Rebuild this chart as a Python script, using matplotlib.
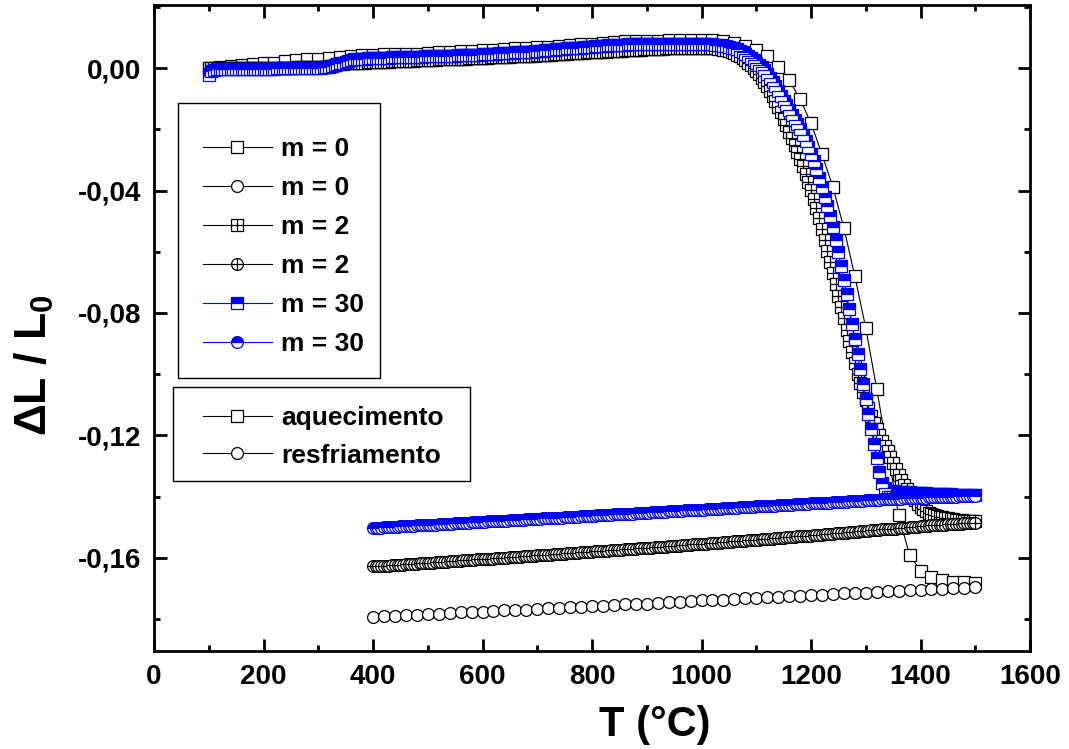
import numpy as np
import matplotlib
matplotlib.use("Agg")
import matplotlib.pyplot as plt
from matplotlib.path import Path
from matplotlib.patches import Rectangle
from matplotlib.ticker import MultipleLocator, FuncFormatter
from matplotlib.lines import Line2D

plt.rcParams['font.family'] = ['Liberation Sans', 'DejaVu Sans']
plt.rcParams['font.weight'] = 'bold'
plt.rcParams['mathtext.fontset'] = 'custom'
plt.rcParams['mathtext.rm'] = 'Liberation Sans:bold'
plt.rcParams['mathtext.it'] = 'Liberation Sans:bold'
plt.rcParams['mathtext.bf'] = 'Liberation Sans:bold'

# Temperature grids (°C)
T_m0_heat = np.arange(100, 1501, 20)
T_m0_cool = np.arange(400, 1501, 20)
T_heat = np.arange(100, 1501, 5)
T_cool = np.arange(400, 1501, 5)

# Relative length change dL/L0, stored in units of 1e-4
m0_heat = [
    0, 3, 6, 9, 12, 15, 18, 22, 25, 28,
    31, 34, 37, 40, 42, 44, 45, 46, 47, 47,
    49, 51, 53, 55, 57, 59, 60, 62, 64, 66,
    68, 70, 72, 74, 77, 80, 83, 85, 87, 88,
    89, 90, 91, 91, 92, 92, 91, 90, 82, 73,
    59, 39, 3, -39, -101, -180, -281, -389, -522, -679,
    -849, -1048, -1254, -1460, -1590, -1642, -1662, -1672, -1678, -1680,
    -1682,
]
m0_cool = [
    -1793, -1791, -1791, -1788, -1787, -1784, -1783, -1781, -1778, -1777, -1775,
    -1774, -1771, -1770, -1769, -1766, -1764, -1763, -1761, -1760,
    -1757, -1756, -1753, -1752, -1750, -1749, -1746, -1745, -1743, -1741,
    -1739, -1738, -1736, -1735, -1732, -1731, -1728, -1727, -1725, -1723,
    -1722, -1720, -1719, -1716, -1714, -1713, -1710, -1709, -1707, -1705,
    -1704, -1702, -1700, -1699, -1697, -1695,
]
m2_heat = [
    0, 0, 0, 0, 0, -1, -1, -1, -1, -1,
    -1, -1, -1, -1, 0, 0, 0, 0, 0, 0,
    0, 0, 0, 1, 1, 1, 1, 1, 1, 1,
    1, 1, 2, 2, 2, 2, 2, 2, 2, 3,
    3, 3, 4, 5, 6, 8, 10, 12, 13, 14,
    15, 16, 16, 17, 17, 18, 18, 18, 19, 19,
    19, 20, 20, 20, 21, 21, 21, 22, 22, 22,
    23, 23, 23, 24, 24, 24, 25, 25, 25, 26,
    26, 26, 27, 27, 28, 28, 28, 29, 29, 30,
    30, 30, 31, 31, 31, 32, 32, 32, 33, 33,
    33, 34, 34, 35, 35, 35, 36, 36, 37, 37,
    37, 38, 38, 39, 39, 40, 40, 40, 41, 41,
    42, 42, 43, 43, 44, 44, 45, 45, 46, 46,
    47, 47, 48, 48, 49, 49, 50, 50, 51, 51,
    52, 52, 53, 53, 54, 54, 55, 55, 56, 56,
    57, 57, 58, 58, 59, 59, 60, 60, 60, 61,
    61, 62, 62, 62, 63, 63, 63, 64, 64, 64,
    65, 65, 65, 65, 66, 66, 66, 66, 66, 66,
    66, 66, 66, 65, 65, 64, 63, 62, 60, 58,
    55, 52, 48, 44, 39, 33, 26, 18, 9, 0,
    -10, -21, -33, -46, -60, -75, -91, -108, -126, -145,
    -165, -186, -208, -230, -252, -275, -297, -320, -345, -371,
    -398, -427, -458, -491, -525, -560, -596, -632, -669, -706,
    -743, -780, -817, -854, -891, -928, -964, -1000, -1030, -1058,
    -1085, -1110, -1135, -1158, -1180, -1200, -1218, -1235, -1252, -1270,
    -1290, -1310, -1330, -1347, -1362, -1375, -1387, -1400, -1412, -1424,
    -1433, -1441, -1447, -1452, -1456, -1459, -1462, -1465, -1467, -1469,
    -1471, -1472, -1474, -1475, -1476, -1477, -1478, -1479, -1480, -1480,
    -1481,
]
m2_cool = [
    -1628, -1627, -1627, -1626, -1626, -1625, -1625, -1624, -1623, -1623,
    -1622, -1622, -1621, -1620, -1620, -1619, -1619, -1618, -1617, -1617,
    -1616, -1616, -1615, -1614, -1614, -1613, -1613, -1612, -1611, -1611,
    -1610, -1610, -1609, -1608, -1608, -1607, -1607, -1606, -1605, -1605,
    -1604, -1604, -1603, -1602, -1602, -1601, -1601, -1600, -1599, -1599,
    -1598, -1597, -1597, -1596, -1596, -1595, -1594, -1594, -1593, -1593,
    -1592, -1591, -1591, -1590, -1590, -1589, -1588, -1588, -1587, -1587,
    -1586, -1585, -1585, -1584, -1584, -1583, -1582, -1582, -1581, -1580,
    -1580, -1579, -1579, -1578, -1577, -1577, -1576, -1575, -1575, -1574,
    -1574, -1573, -1572, -1572, -1571, -1570, -1570, -1569, -1568, -1568,
    -1567, -1567, -1566, -1565, -1565, -1564, -1563, -1563, -1562, -1561,
    -1561, -1560, -1560, -1559, -1558, -1558, -1557, -1556, -1556, -1555,
    -1554, -1554, -1553, -1552, -1552, -1551, -1550, -1550, -1549, -1548,
    -1548, -1547, -1546, -1546, -1545, -1544, -1544, -1543, -1542, -1542,
    -1541, -1540, -1539, -1539, -1538, -1537, -1537, -1536, -1535, -1535,
    -1534, -1533, -1532, -1532, -1531, -1530, -1530, -1529, -1528, -1527,
    -1527, -1526, -1525, -1525, -1524, -1523, -1522, -1522, -1521, -1520,
    -1519, -1519, -1518, -1517, -1516, -1516, -1515, -1514, -1513, -1513,
    -1512, -1511, -1510, -1510, -1509, -1508, -1507, -1507, -1506, -1505,
    -1504, -1504, -1503, -1502, -1501, -1501, -1500, -1499, -1498, -1498,
    -1497, -1496, -1495, -1495, -1494, -1493, -1493, -1492, -1491, -1491,
    -1490, -1490, -1489, -1489, -1488, -1488, -1487, -1487, -1486, -1486,
    -1486,
]
m30_heat = [
    -23, -8, -5, -4, -4, -4, -4, -3, -3, -3,
    -3, -3, -3, -3, -3, -2, -2, -2, -2, -2,
    -2, -2, -2, -2, -2, -1, -1, -1, -1, -1,
    -1, -1, -1, -1, 0, 0, 0, 0, 0, 0,
    0, 1, 2, 3, 4, 6, 9, 12, 15, 18,
    21, 24, 26, 28, 29, 30, 31, 31, 32, 32,
    33, 33, 33, 34, 34, 34, 34, 35, 35, 35,
    35, 36, 36, 36, 36, 37, 37, 37, 37, 38,
    38, 38, 39, 39, 39, 40, 40, 40, 41, 41,
    41, 42, 42, 42, 43, 43, 43, 44, 44, 44,
    45, 45, 46, 46, 47, 47, 48, 48, 49, 49,
    50, 50, 51, 51, 52, 53, 53, 54, 54, 55,
    56, 56, 57, 58, 58, 59, 60, 61, 61, 62,
    63, 64, 64, 65, 66, 67, 67, 68, 69, 70,
    70, 71, 72, 72, 73, 73, 74, 74, 75, 75,
    76, 76, 76, 77, 77, 77, 78, 78, 78, 78,
    79, 79, 79, 79, 79, 80, 80, 80, 80, 80,
    80, 80, 80, 80, 80, 80, 80, 79, 79, 79,
    79, 78, 78, 77, 77, 76, 75, 74, 73, 71,
    69, 67, 64, 61, 57, 52, 46, 40, 33, 25,
    18, 10, 2, -6, -18, -32, -46, -60, -75, -90,
    -106, -122, -138, -153, -168, -184, -200, -218, -238, -259,
    -281, -305, -331, -358, -388, -420, -450, -483, -520, -560,
    -602, -646, -692, -739, -787, -836, -885, -934, -983, -1032,
    -1081, -1130, -1180, -1229, -1275, -1320, -1355, -1373, -1380, -1382,
    -1383, -1384, -1384, -1385, -1385, -1386, -1386, -1387, -1387, -1388,
    -1388, -1389, -1389, -1390, -1390, -1390, -1391, -1391, -1391, -1392,
    -1392, -1392, -1393, -1393, -1393, -1394, -1394, -1394, -1395, -1395,
    -1395,
]
m30_cool = [
    -1502, -1502, -1501, -1501, -1500, -1500, -1499, -1499, -1498, -1498,
    -1497, -1497, -1496, -1496, -1495, -1495, -1494, -1494, -1493, -1493,
    -1492, -1492, -1491, -1491, -1490, -1490, -1489, -1489, -1488, -1488,
    -1487, -1487, -1486, -1486, -1485, -1485, -1484, -1484, -1483, -1483,
    -1482, -1482, -1481, -1481, -1480, -1480, -1479, -1479, -1478, -1478,
    -1477, -1477, -1476, -1476, -1475, -1475, -1474, -1474, -1473, -1473,
    -1472, -1472, -1471, -1471, -1470, -1470, -1469, -1469, -1468, -1468,
    -1467, -1467, -1466, -1466, -1465, -1465, -1464, -1464, -1463, -1463,
    -1462, -1462, -1461, -1461, -1460, -1460, -1459, -1459, -1458, -1458,
    -1457, -1457, -1456, -1456, -1455, -1455, -1454, -1454, -1453, -1453,
    -1452, -1452, -1451, -1451, -1450, -1450, -1449, -1449, -1448, -1448,
    -1447, -1447, -1446, -1446, -1445, -1445, -1444, -1444, -1443, -1443,
    -1442, -1442, -1441, -1441, -1440, -1440, -1439, -1439, -1438, -1438,
    -1437, -1437, -1436, -1436, -1435, -1435, -1434, -1434, -1433, -1433,
    -1432, -1432, -1431, -1431, -1430, -1430, -1429, -1429, -1428, -1428,
    -1427, -1427, -1426, -1426, -1425, -1425, -1424, -1424, -1423, -1423,
    -1422, -1422, -1421, -1421, -1420, -1420, -1419, -1419, -1418, -1418,
    -1417, -1417, -1416, -1416, -1415, -1415, -1414, -1414, -1413, -1413,
    -1412, -1412, -1411, -1411, -1410, -1410, -1409, -1409, -1408, -1408,
    -1407, -1407, -1406, -1406, -1405, -1405, -1405, -1404, -1404, -1404,
    -1403, -1403, -1403, -1402, -1402, -1402, -1401, -1401, -1401, -1401,
    -1400, -1400, -1400, -1400, -1399, -1399, -1399, -1399, -1399, -1398,
    -1398,
]
UNIT = 1e-4

labels_m = ["m = 0", "m = 0", "m = 2", "m = 2", "m = 30", "m = 30"]
labels_run = ["aquecimento", "resfriamento"]


def square_plus():
    verts = [(-1, -1), (1, -1), (1, 1), (-1, 1), (-1, -1),
             (0, -1), (0, 1), (-1, 0), (1, 0)]
    codes = [Path.MOVETO, Path.LINETO, Path.LINETO, Path.LINETO, Path.CLOSEPOLY,
             Path.MOVETO, Path.LINETO, Path.MOVETO, Path.LINETO]
    return Path(verts, codes)


def circle_plus():
    c = Path.unit_circle()
    verts = np.concatenate([c.vertices, [(0, -1), (0, 1), (-1, 0), (1, 0)]])
    codes = np.concatenate([c.codes, [Path.MOVETO, Path.LINETO, Path.MOVETO, Path.LINETO]])
    return Path(verts, codes)


W, H = 1069, 749
fig = plt.figure(figsize=(W / 100, H / 100), dpi=100)
ax = fig.add_axes([154 / W, 98 / H, 876 / W, 646 / H])


def fig_xy(px, py):
    """Pixel position (from top-left) to figure fraction."""
    return px / W, 1 - py / H


MS = 8.5
MEW = 0.9
LW = 0.8
BLUE = (0, 0, 1)

black_open = dict(color='black', lw=LW, mfc='white', mec='black', mew=MEW, ms=MS)
blue_half = dict(color=BLUE, lw=LW, mfc=BLUE, mfcalt='white', mec=BLUE, mew=MEW,
                 ms=MS, fillstyle='top')

l1, = ax.plot(T_m0_heat, np.array(m0_heat) * UNIT, marker='s', label=labels_m[0], **black_open)
l2, = ax.plot(T_m0_cool, np.array(m0_cool) * UNIT, marker='o', label=labels_m[1], **black_open)
l3, = ax.plot(T_heat, np.array(m2_heat) * UNIT, marker=square_plus(), label=labels_m[2], **black_open)
l4, = ax.plot(T_cool, np.array(m2_cool) * UNIT, marker=circle_plus(), label=labels_m[3], **black_open)
l5, = ax.plot(T_heat, np.array(m30_heat) * UNIT, marker='s', label=labels_m[4], **blue_half)
l6, = ax.plot(T_cool, np.array(m30_cool) * UNIT, marker='o', label=labels_m[5], **blue_half)

ax.set_xlim(0, 1600)
ax.set_ylim(-0.1904, 0.0206)

ax.xaxis.set_major_locator(MultipleLocator(200))
ax.xaxis.set_minor_locator(MultipleLocator(100))
ax.yaxis.set_major_locator(MultipleLocator(0.04))
ax.yaxis.set_minor_locator(MultipleLocator(0.02))


def comma_fmt(v, pos):
    if abs(v) < 1e-9:
        v = 0.0
    return f"{v:.2f}".replace('.', ',')


ax.yaxis.set_major_formatter(FuncFormatter(comma_fmt))
ax.xaxis.set_major_formatter(FuncFormatter(lambda v, p: f"{v:.0f}"))

ax.tick_params(which='both', direction='in', top=True, right=True, width=2.0)
ax.tick_params(which='major', length=9, labelsize=20, pad=9)
ax.tick_params(which='minor', length=4.5)
for lab in ax.get_xticklabels() + ax.get_yticklabels():
    lab.set_fontweight('bold')
for sp in ax.spines.values():
    sp.set_linewidth(2.0)

ax.set_xlabel("T (°C)", fontsize=30, fontweight='bold')
ax.set_ylabel("ΔL / L$_0$", fontsize=32, fontweight='bold')
ax.xaxis.set_label_coords((655 - 154) / 876, -0.084)
ax.yaxis.set_label_coords((56 - 154) / 876, 0.443)

# Legend frames
for (x0, y0, x1, y1) in [(178, 103, 380, 378), (173, 387, 470, 481)]:
    fx, fy = fig_xy(x0, y1)
    fig.add_artist(Rectangle((fx, fy), (x1 - x0) / W, (y1 - y0) / H,
                             transform=fig.transFigure, facecolor='white',
                             edgecolor='black', lw=1.0, zorder=4))

LEG_FS = 19
common = dict(loc='upper left', borderaxespad=0, borderpad=0, frameon=False,
              prop={'weight': 'bold', 'size': LEG_FS}, handlelength=2.61,
              handletextpad=0.34, numpoints=1)

leg1 = fig.legend(handles=[l1, l2, l3, l4, l5, l6], labelspacing=0.57,
                  bbox_to_anchor=fig_xy(203, 137), bbox_transform=fig.transFigure,
                  **common)
leg1.set_zorder(5)

h_heat = Line2D([], [], marker='s', **black_open)
h_cool = Line2D([], [], marker='o', **black_open)
leg2 = fig.legend(handles=[h_heat, h_cool], labels=labels_run, labelspacing=0.52,
                  bbox_to_anchor=fig_xy(203, 406), bbox_transform=fig.transFigure,
                  **common)
leg2.set_zorder(5)

fig.savefig("out.png", dpi=100)
